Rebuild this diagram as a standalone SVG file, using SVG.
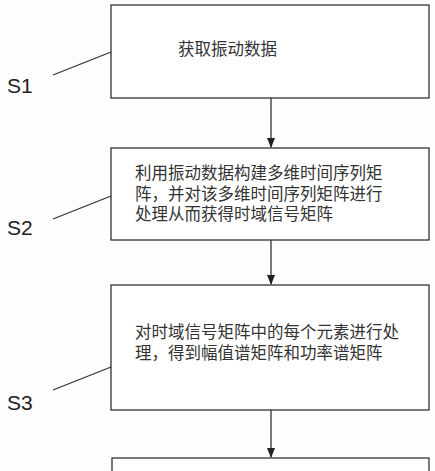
<svg xmlns="http://www.w3.org/2000/svg" width="435" height="471" viewBox="0 0 435 471">
<defs>
<style>
.box{fill:#fff;stroke:#333;stroke-width:1.3}
.t{font-family:"Liberation Sans","Noto Sans CJK SC",sans-serif;font-size:16.5px;fill:#333}
.lbl{font-family:"Liberation Sans",sans-serif;font-size:21px;fill:#222}
.ln{stroke:#333;stroke-width:1.3;fill:none}
</style>
<marker id="ah" markerWidth="10" markerHeight="10" refX="9" refY="5" orient="auto" markerUnits="userSpaceOnUse">
<path d="M0,1 L10,5 L0,9 Z" fill="#222"/>
</marker>
</defs>
<rect width="435" height="471" fill="#fdfdfd"/>
<g id="s1">
<rect class="box" x="111" y="5" width="318" height="93"/>
<text class="t" x="178" y="55">获取振动数据</text>
</g>
<g id="s2">
<rect class="box" x="111" y="148" width="318" height="92"/>
<text class="t" x="135" y="179">利用振动数据构建多维时间序列矩</text>
<text class="t" x="135" y="199.5">阵，并对该多维时间序列矩阵进行</text>
<text class="t" x="135" y="220">处理从而获得时域信号矩阵</text>
</g>
<g id="s3">
<rect class="box" x="111" y="285" width="318" height="125"/>
<text class="t" x="135" y="338">对时域信号矩阵中的每个元素进行处</text>
<text class="t" x="135" y="359">理，得到幅值谱矩阵和功率谱矩阵</text>
</g>
<g id="s4">
<rect class="box" x="112" y="458" width="317" height="30"/>
</g>
<g id="labels">
<text class="lbl" x="7" y="93">S1</text>
<text class="lbl" x="7" y="235">S2</text>
<text class="lbl" x="7" y="410">S3</text>
</g>
<g id="connectors">
<line class="ln" x1="53" y1="75" x2="111" y2="52"/>
<line class="ln" x1="53" y1="219" x2="111" y2="196"/>
<line class="ln" x1="53" y1="390" x2="111" y2="367"/>
<line class="ln" x1="271" y1="98" x2="271" y2="147" marker-end="url(#ah)"/>
<line class="ln" x1="271" y1="240" x2="271" y2="284" marker-end="url(#ah)"/>
<line class="ln" x1="271" y1="410" x2="271" y2="457" marker-end="url(#ah)"/>
</g>
</svg>
